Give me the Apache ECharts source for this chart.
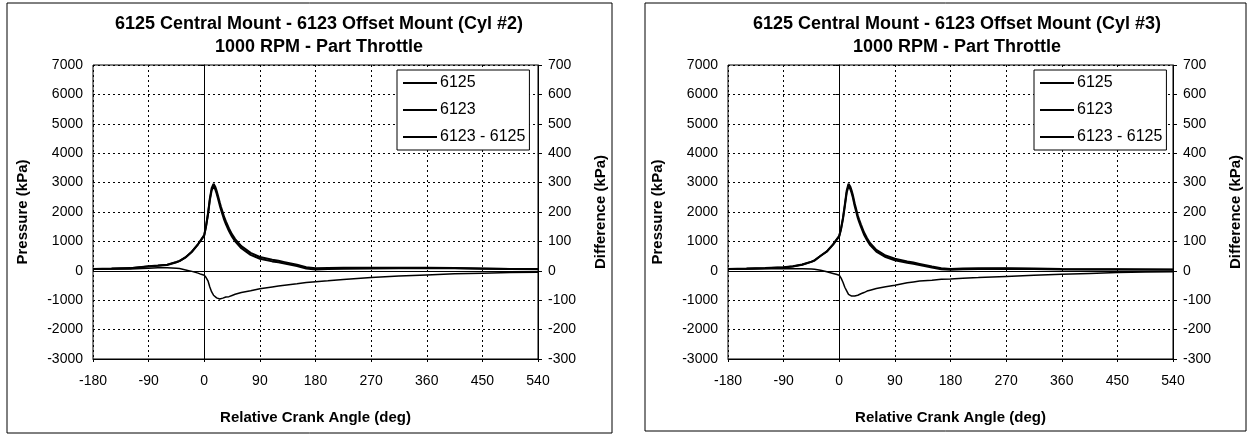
<!DOCTYPE html>
<html>
<head>
<meta charset="utf-8">
<script src="https://cdn.jsdelivr.net/npm/echarts@6/dist/echarts.min.js"></script>
<style>
  html, body { margin: 0; padding: 0; background: #fff; }
  #main { width: 1249px; height: 435px; }
</style>
</head>
<body>
<div id="main"></div>
<script>
// crank angle (deg), shared by every trace
var angles = [-180, -150, -120, -90, -75, -60, -45, -40, -30, -20, -10, -5, 0, 3, 6, 9, 12, 15, 18, 20, 22, 25, 27, 30, 32, 35, 40, 45, 50, 60, 75, 90, 110, 120, 130, 150, 165, 180, 200, 225, 270, 315, 360, 405, 450, 495, 540];

// Cyl #2 (left chart)
var cyl2_6125 = [60, 70, 85, 150, 170, 200, 290, 330, 460, 650, 910, 1060, 1220, 1540, 1940, 2450, 2810, 2960, 2850, 2720, 2570, 2330, 2180, 1980, 1840, 1680, 1440, 1240, 1080, 840, 610, 470, 375, 340, 295, 205, 120, 85, 95, 100, 100, 105, 100, 95, 80, 65, 60];
var cyl2_6123 = [65, 76, 91, 159, 180, 210, 299, 338, 463, 648, 902, 1048, 1205, 1517, 1906, 2395, 2738, 2877, 2762, 2628, 2476, 2234, 2085, 1887, 1749, 1591, 1352, 1156, 1000, 766, 542, 409, 320, 288, 246, 161, 80, 48, 61, 70, 77, 87, 86, 85, 72, 59, 55];
var cyl2_diff = [5, 6, 6, 9, 10, 10, 9, 8, 3, -2, -8, -12, -15, -23, -34, -55, -72, -83, -88, -92, -94, -96, -95, -93, -91, -89, -88, -84, -80, -74, -68, -61, -55, -52, -49, -44, -40, -37, -34, -30, -23, -18, -14, -10, -8, -6, -5];

// Cyl #3 (right chart)
var cyl3_6125 = [57, 70, 90, 115, 150, 205, 305, 350, 510, 660, 900, 1045, 1190, 1450, 1800, 2250, 2720, 2960, 2860, 2730, 2580, 2290, 2130, 1880, 1750, 1580, 1310, 1110, 940, 710, 520, 410, 315, 280, 235, 145, 85, 65, 75, 85, 90, 75, 60, 55, 50, 45, 40];
var cyl3_6123 = [63, 76, 97, 122, 157, 212, 311, 355, 512, 657, 891, 1033, 1175, 1425, 1761, 2194, 2652, 2880, 2776, 2644, 2494, 2204, 2046, 1797, 1670, 1502, 1236, 1041, 874, 650, 466, 361, 274, 242, 200, 113, 56, 37, 50, 62, 71, 60, 48, 46, 44, 41, 37];
var cyl3_diff = [6, 6, 7, 7, 7, 7, 6, 5, 2, -3, -9, -12, -15, -25, -39, -56, -68, -80, -84, -86, -86, -86, -84, -83, -80, -78, -74, -69, -66, -60, -54, -49, -41, -38, -35, -32, -29, -28, -25, -23, -19, -15, -12, -9, -6, -4, -3];

var titles = [
  '6125 Central Mount - 6123 Offset Mount (Cyl #2)\n1000 RPM - Part Throttle',
  '6125 Central Mount - 6123 Offset Mount (Cyl #3)\n1000 RPM - Part Throttle'
];
var seriesNames = ['6125', '6123', '6123 - 6125'];

var FONT = '"Liberation Sans", Arial, sans-serif';

function pairs(vals) {
  return angles.map(function (a, i) { return [a, vals[i]]; });
}
function plain(v) { return String(v); } // no thousands separator, like Excel

var chart = echarts.init(document.getElementById('main'), null, { renderer: 'canvas' });

var grids = [
  { left: 93, top: 65, width: 445, height: 294 },
  { left: 728, top: 65, width: 445, height: 294 }
];
var titleX = [314, 952];
var legendX = [397, 1034];
var data = [
  [cyl2_6125, cyl2_6123, cyl2_diff],
  [cyl3_6125, cyl3_6123, cyl3_diff]
];

var option = {
  backgroundColor: '#fff',
  animation: false,
  textStyle: { fontFamily: FONT, color: '#000' },
  title: [],
  legend: [],
  grid: [],
  xAxis: [],
  yAxis: [],
  series: [],
  graphic: [
    { type: 'rect', shape: { x: 7, y: 3, width: 605, height: 430 }, style: { fill: 'none', stroke: '#000', lineWidth: 1 } },
    { type: 'rect', shape: { x: 645, y: 3, width: 601, height: 428 }, style: { fill: 'none', stroke: '#000', lineWidth: 1 } }
  ]
};

for (var k = 0; k < 2; k++) {
  option.title.push({
    text: titles[k],
    left: titleX[k], top: 8, textAlign: 'center',
    textStyle: { fontFamily: FONT, fontSize: 18, fontWeight: 'bold', color: '#000', lineHeight: 23 }
  });
  option.legend.push({
    data: seriesNames,
    orient: 'vertical',
    left: legendX[k], top: 70,
    padding: [5, 4, 5, 6],
    icon: 'rect',
    itemWidth: 34, itemHeight: 2, itemGap: 11,
    itemStyle: { color: '#000', borderWidth: 0 },
    lineStyle: { width: 0 },
    backgroundColor: '#fff',
    borderColor: '#000', borderWidth: 1,
    textStyle: { fontFamily: FONT, fontSize: 16, color: '#000', padding: [0, 0, 0, -2] }
  });
  option.grid.push({
    left: grids[k].left, top: grids[k].top, width: grids[k].width, height: grids[k].height,
    show: true, borderColor: '#000', borderWidth: 1, backgroundColor: 'transparent'
  });
  option.xAxis.push({
    type: 'value', gridIndex: k, min: -180, max: 540, interval: 90,
    name: 'Relative Crank Angle (deg)', nameLocation: 'middle', nameGap: 51,
    nameTextStyle: { fontFamily: FONT, fontSize: 15, fontWeight: 'bold', color: '#000' },
    axisLine: { onZero: false, lineStyle: { color: '#000', width: 1 } },
    axisTick: { show: true, length: 3, lineStyle: { color: '#000' } },
    axisLabel: { fontFamily: FONT, fontSize: 14, color: '#000', margin: 15, formatter: plain },
    splitLine: { show: true, lineStyle: { color: '#000', type: [2, 3], width: 1 } }
  });
  option.yAxis.push({
    type: 'value', gridIndex: k, position: 'left', min: -3000, max: 7000, interval: 1000,
    name: 'Pressure (kPa)', nameLocation: 'middle', nameGap: 63, nameRotate: 90,
    nameTextStyle: { fontFamily: FONT, fontSize: 15, fontWeight: 'bold', color: '#000' },
    axisLine: { show: true, lineStyle: { color: '#000', width: 1 } },
    axisTick: { show: true, length: 4, lineStyle: { color: '#000' } },
    axisLabel: { fontFamily: FONT, fontSize: 14, color: '#000', margin: 10, formatter: plain },
    splitLine: { show: true, lineStyle: { color: '#000', type: [2, 3], width: 1 } }
  });
  option.yAxis.push({
    type: 'value', gridIndex: k, position: 'right', min: -300, max: 700, interval: 100,
    name: 'Difference (kPa)', nameLocation: 'middle', nameGap: 55, nameRotate: 90,
    nameTextStyle: { fontFamily: FONT, fontSize: 15, fontWeight: 'bold', color: '#000' },
    axisLine: { show: true, lineStyle: { color: '#000', width: 1 } },
    axisTick: { show: true, length: 4, lineStyle: { color: '#000' } },
    axisLabel: { fontFamily: FONT, fontSize: 14, color: '#000', margin: 10, formatter: plain },
    splitLine: { show: false }
  });

  var widths = [2, 2, 1.5];
  for (var s = 0; s < 3; s++) {
    var ser = {
      name: seriesNames[s],
      type: 'line',
      xAxisIndex: k,
      yAxisIndex: s === 2 ? k * 2 + 1 : k * 2,
      data: pairs(data[k][s]),
      showSymbol: false, symbol: 'none',
      lineStyle: { color: '#000', width: widths[s] },
      itemStyle: { color: '#000' },
      z: 3
    };
    if (s === 0) {
      ser.markLine = {
        silent: true, symbol: 'none',
        label: { show: false },
        lineStyle: { color: '#000', type: 'solid', width: 1 },
        data: [{ yAxis: 0 }]
      };
    }
    option.series.push(ser);
  }
}

chart.setOption(option);
</script>
</body>
</html>
